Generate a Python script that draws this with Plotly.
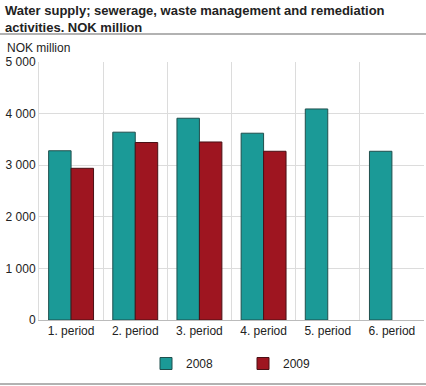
import plotly.graph_objects as go

categories = ["1. period", "2. period", "3. period", "4. period", "5. period", "6. period"]
values_2008 = [3280, 3640, 3910, 3620, 4090, 3270]
values_2009 = [2940, 3440, 3450, 3270, None, None]
y_ticks = [0, 1000, 2000, 3000, 4000, 5000]

teal = "#1b9a97"
red = "#9e1520"

W, L, R, T, B, H = 426, 39, 2, 62, 66, 386
pw, ph = W - L - R, H - T - B

fig = go.Figure()
fig.add_trace(go.Bar(name="2008", x=categories, y=values_2008, marker=dict(color=teal, line=dict(color="#1f4f4d", width=1))))
fig.add_trace(go.Bar(name="2009", x=categories, y=values_2009, marker=dict(color=red, line=dict(color="#4a1015", width=1))))

fig.update_layout(
    width=W, height=H,
    margin=dict(l=L, r=R, t=T, b=B, autoexpand=False),
    paper_bgcolor="white", plot_bgcolor="white",
    font=dict(family="Liberation Sans, Arial, sans-serif", size=12, color="#222"),
    separators=", ",
    barmode="group", bargap=0.3, bargroupgap=0,
    showlegend=True,
    legend=dict(orientation="h", x=0.5 + 11.5 / pw, xanchor="center", y=-29 / ph, yanchor="top",
                font=dict(size=12), itemwidth=30, traceorder="normal",
                entrywidth=52, entrywidthmode="pixels"),
    annotations=[
        dict(text="<b>Water supply; sewerage, waste management and remediation<br>activities. NOK million</b>",
             xref="paper", yref="paper", x=-(L - 3) / pw, y=1 + (T - 1) / ph, xanchor="left", yanchor="top",
             showarrow=False, align="left", font=dict(size=13, color="#222")),
        dict(text="NOK million", xref="paper", yref="paper", x=-(L - 5) / pw, y=1 + 14 / ph,
             xanchor="left", yanchor="middle", showarrow=False, font=dict(size=12)),
    ],
    shapes=[
        dict(type="line", xref="paper", yref="paper", x0=-L / pw, x1=1 + R / pw,
             y0=1 + (T - 34) / ph, y1=1 + (T - 34) / ph, line=dict(color="#999", width=1.5)),
        dict(type="line", xref="paper", yref="paper", x0=-L / pw, x1=1 + R / pw,
             y0=-(B - 2) / ph, y1=-(B - 2) / ph, line=dict(color="#999", width=1.5)),
    ],
)
fig.update_xaxes(type="category", tickson="boundaries", ticklen=0, showgrid=True, automargin=False,
                 gridcolor="#dcdcdc", gridwidth=1, showline=True, linecolor="#bbb",
                 tickfont=dict(size=12))
fig.update_yaxes(range=[0, 5000], tickvals=y_ticks, tickformat=",d", showgrid=True, automargin=False,
                 gridcolor="#dcdcdc", gridwidth=1, zeroline=False, showline=True,
                 linecolor="#dcdcdc", ticks="", tickfont=dict(size=12))

fig.write_html("out.html", config={"displayModeBar": False},
               post_script="document.body.style.margin='0';document.body.style.overflow='hidden';")
